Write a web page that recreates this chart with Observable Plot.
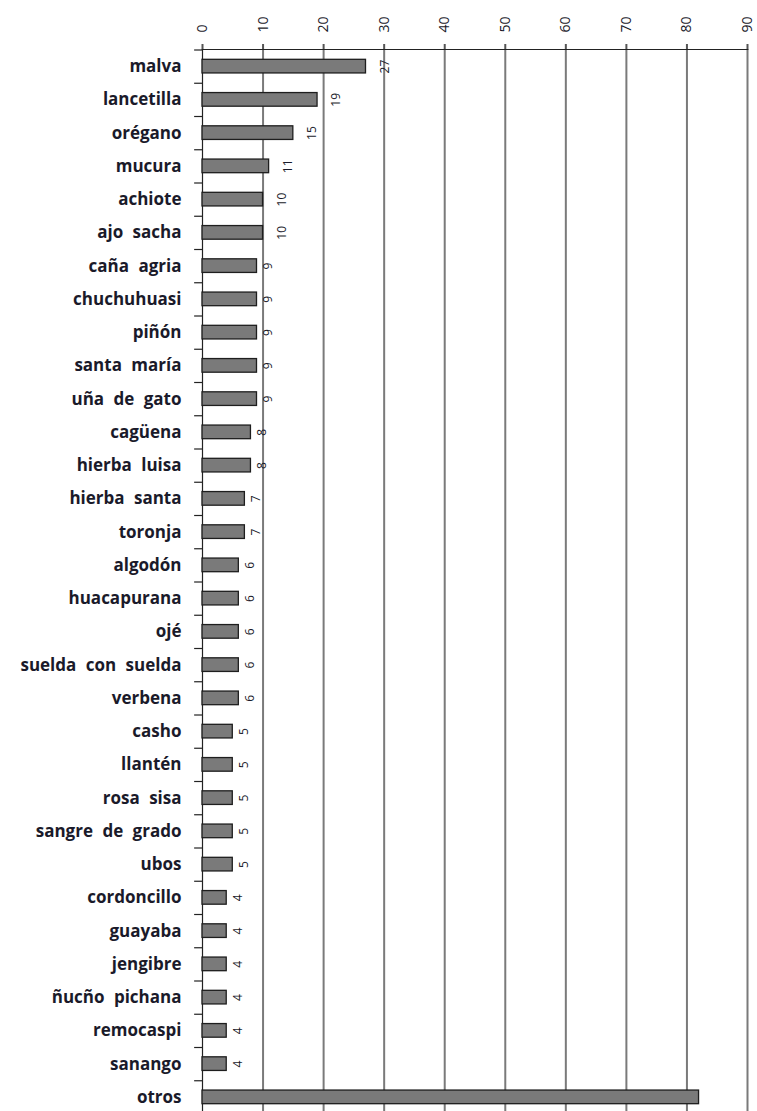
<!DOCTYPE html>
<html>
<head>
<meta charset="utf-8">
<script src="https://cdn.jsdelivr.net/npm/d3@7"></script>
<script src="https://cdn.jsdelivr.net/npm/@observablehq/plot@0.6"></script>
<style>
  html, body { margin: 0; padding: 0; background: #fff; }
  #chart svg { display: block; }
  #chart svg g[aria-label="y-axis tick label"] { word-spacing: 5px; }
</style>
</head>
<body>
<div id="chart"></div>
<script>
const plantas = [
  "malva", "lancetilla", "orégano", "mucura", "achiote", "ajo sacha",
  "caña agria", "chuchuhuasi", "piñón", "santa maría", "uña de gato",
  "cagüena", "hierba luisa", "hierba santa", "toronja", "algodón",
  "huacapurana", "ojé", "suelda con suelda", "verbena", "casho", "llantén",
  "rosa sisa", "sangre de grado", "ubos", "cordoncillo", "guayaba",
  "jengibre", "ñucño pichana", "remocaspi", "sanango", "otros"
];
const valores = [
  27, 19, 15, 11, 10, 10,
  9, 9, 9, 9, 9,
  8, 8, 7, 7, 6,
  6, 6, 6, 6, 5, 5,
  5, 5, 5, 4, 4,
  4, 4, 4, 4, 82
];
const xTicks = [0, 10, 20, 30, 40, 50, 60, 70, 80, 90];

const data = plantas.map((p, i) => ({planta: p, valor: valores[i]}));
const labelled = data.filter(d => d.planta !== "otros");
const twoDigit = labelled.filter(d => d.valor >= 10);
const oneDigit = labelled.filter(d => d.valor < 10);

const step = 33.25;
const y0 = 49.5;
const font = "'Open Sans', 'Liberation Sans', sans-serif";

const chart = Plot.plot({
  width: 757,
  height: 1111,
  marginLeft: 202,
  marginRight: 10,
  marginTop: 49,
  marginBottom: 0,
  style: {fontFamily: font, background: "#fff", color: "#222"},
  x: {domain: [0, 90], axis: null},
  y: {
    domain: plantas,
    range: [y0, y0 + step * plantas.length],
    paddingInner: 0.59,
    paddingOuter: 0.295,
    round: false,
    axis: null
  },
  marks: [
    Plot.gridX({ticks: xTicks.slice(1), stroke: "#7a7a7a", strokeOpacity: 1, strokeWidth: 2}),
    Plot.axisX({
      anchor: "top",
      ticks: xTicks,
      tickSize: 6,
      tickPadding: 11,
      tickRotate: -90,
      textAnchor: "start",
      lineAnchor: "middle",
      fontSize: 14,
      stroke: "#555",
      strokeWidth: 2,
      fill: "#1a1a2a",
      label: null
    }),
    Plot.frame({anchor: "top", stroke: "#222", strokeWidth: 1.2}),
    Plot.ruleX([0], {stroke: "#222", strokeWidth: 1.2}),
    Plot.ruleY(plantas, {y: d => d, x1: -1.3, x2: 0, dy: step / 2, stroke: "#222", strokeWidth: 1.2}),
    Plot.ruleY(plantas.slice(0, 1), {y: d => d, x1: -1.3, x2: 0, dy: -step / 2, stroke: "#222", strokeWidth: 1.2}),
    Plot.barX(data, {x: "valor", y: "planta", fill: "#7a7a7a", stroke: "#1e1e1e", strokeWidth: 1.3}),
    Plot.axisY({
      anchor: "left",
      tickSize: 0,
      tickPadding: 21,
      fontSize: 17,
      fontWeight: "bold",
      fill: "#1a1a2a",
      label: null
    }),
    Plot.text(twoDigit, {x: "valor", y: "planta", text: d => String(d.valor), dx: 19, rotate: -90, textAnchor: "middle", lineAnchor: "middle", fontSize: 12, fill: "#1a1a2a"}),
    Plot.text(oneDigit, {x: "valor", y: "planta", text: d => String(d.valor), dx: 11, rotate: -90, textAnchor: "middle", lineAnchor: "middle", fontSize: 12, fill: "#1a1a2a"})
  ]
});
document.getElementById("chart").appendChild(chart);
</script>
</body>
</html>
